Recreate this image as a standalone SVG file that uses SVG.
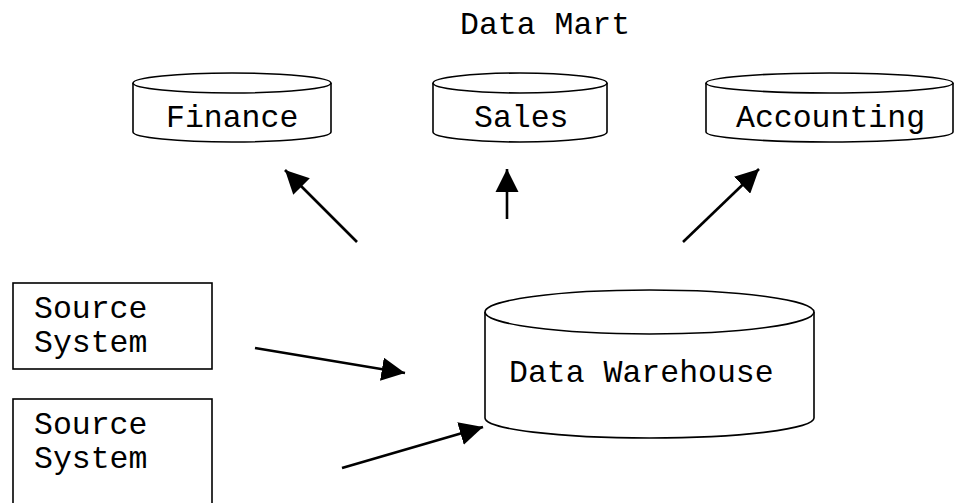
<svg xmlns="http://www.w3.org/2000/svg" width="955" height="503" viewBox="0 0 955 503">
<defs>
<style>
.s{fill:#fff;stroke:#000;stroke-width:1.6}
.t{font-family:"Liberation Mono","Courier New",monospace;font-size:31.5px;fill:#000}
.c{stroke:#000;stroke-width:2.6;fill:none;marker-end:url(#ah)}
</style>
<marker id="ah" markerWidth="9" markerHeight="9" refX="9" refY="4.5" orient="auto" markerUnits="strokeWidth" viewBox="0 0 9 9">
<path d="M0,0 L9,4.5 L0,9 Z" fill="#000"/>
</marker>
</defs>
<rect width="955" height="503" fill="#fff"/>
<text class="t" x="460" y="34">Data Mart</text>
<g id="finance">
<path class="s" d="M133,83 L133,132 A99,10 0 0 0 331,132 L331,83"/>
<ellipse class="s" cx="232" cy="83" rx="99" ry="10"/>
<text class="t" x="166" y="127">Finance</text>
</g>
<g id="sales">
<path class="s" d="M433,83 L433,132 A87,10 0 0 0 607,132 L607,83"/>
<ellipse class="s" cx="520" cy="83" rx="87" ry="10"/>
<text class="t" x="474" y="127">Sales</text>
</g>
<g id="accounting">
<path class="s" d="M706,83 L706,132 A123.5,10 0 0 0 953,132 L953,83"/>
<ellipse class="s" cx="829.5" cy="83" rx="123.5" ry="10"/>
<text class="t" x="736" y="127">Accounting</text>
</g>
<g id="source1">
<rect class="s" x="13" y="283" width="199" height="86"/>
<text class="t" x="34" y="318">Source</text>
<text class="t" x="34" y="352">System</text>
</g>
<g id="source2">
<rect class="s" x="13" y="399" width="199" height="110"/>
<text class="t" x="34" y="434">Source</text>
<text class="t" x="34" y="468">System</text>
</g>
<g id="warehouse">
<path class="s" d="M485,312 L485,418 A164.5,20 0 0 0 814,418 L814,312"/>
<ellipse class="s" cx="649.5" cy="312" rx="164.5" ry="22"/>
<text class="t" x="509" y="382">Data Warehouse</text>
</g>
<g id="connectors">
<line class="c" x1="357" y1="242" x2="285" y2="170"/>
<line class="c" x1="507" y1="219" x2="507" y2="169"/>
<line class="c" x1="683" y1="242" x2="759" y2="169"/>
<line class="c" x1="255" y1="348" x2="405" y2="373"/>
<line class="c" x1="342" y1="468" x2="483" y2="427"/>
</g>
</svg>
